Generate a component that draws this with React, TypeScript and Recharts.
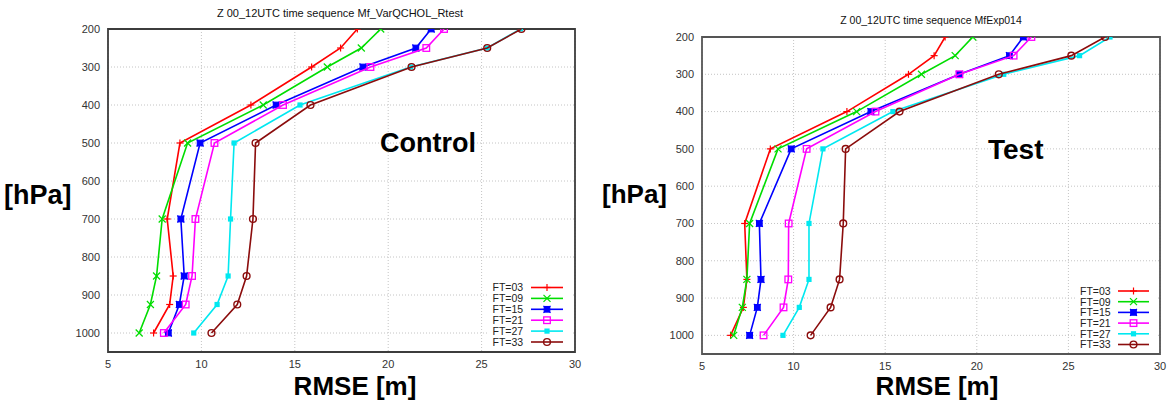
import { ScatterChart, Scatter, XAxis, YAxis, CartesianGrid, ReferenceArea } from 'recharts'

const FONT = '"Liberation Sans", Arial, Helvetica, sans-serif'

// pressure levels [hPa]
const levels = [200, 250, 300, 400, 500, 700, 850, 925, 1000]

const seriesNames = ['FT=03', 'FT=09', 'FT=15', 'FT=21', 'FT=27', 'FT=33']
const colors = ['#ff0000', '#00dd00', '#0000ff', '#ff00ff', '#00e8f0', '#8b0c0c']

const xTicks = [5, 10, 15, 20, 25, 30]
const yTicks = [200, 300, 400, 500, 600, 700, 800, 900, 1000]

// Control run RMSE [m]
const ctrlFT03 = [18.35, 17.45, 15.9, 12.65, 8.85, 8.17, 8.49, 8.3, 7.44]
const ctrlFT09 = [19.6, 18.56, 16.74, 13.31, 9.26, 7.9, 7.6, 7.27, 6.67]
const ctrlFT15 = [22.3, 21.48, 18.65, 14.0, 9.93, 8.9, 9.08, 8.82, 8.23]
const ctrlFT21 = [22.99, 22.04, 19.05, 14.37, 10.7, 9.68, 9.5, 9.16, 7.99]
const ctrlFT27 = [27.08, 25.3, 21.2, 15.28, 11.75, 11.56, 11.43, 10.84, 9.59]
const ctrlFT33 = [27.13, 25.3, 21.25, 15.84, 12.9, 12.76, 12.42, 11.92, 10.54]

// Test run RMSE [m]
const testFT03 = [18.27, 17.67, 16.27, 12.91, 8.73, 7.33, 7.45, 7.26, 6.56]
const testFT09 = [19.78, 18.82, 16.98, 13.44, 9.15, 7.6, 7.45, 7.2, 6.73]
const testFT15 = [22.54, 21.78, 19.05, 14.22, 9.87, 8.13, 8.22, 8.02, 7.6]
const testFT21 = [22.98, 22.01, 19.05, 14.47, 10.71, 9.73, 9.71, 9.45, 8.36]
const testFT27 = [27.27, 25.61, 21.47, 15.42, 11.6, 10.84, 10.84, 10.31, 9.42]
const testFT33 = [27.0, 25.16, 21.2, 15.78, 12.84, 12.71, 12.51, 12.02, 10.93]

const ctrlSeries = [ctrlFT03, ctrlFT09, ctrlFT15, ctrlFT21, ctrlFT27, ctrlFT33]
const testSeries = [testFT03, testFT09, testFT15, testFT21, testFT27, testFT33]

function Marker({ kind, cx, cy, color }: { kind: number; cx: number; cy: number; color: string }) {
  const s = 3.5
  switch (kind) {
    case 0:
      return (
        <g stroke={color} strokeWidth={1.2}>
          <line x1={cx - s} y1={cy} x2={cx + s} y2={cy} />
          <line x1={cx} y1={cy - s} x2={cx} y2={cy + s} />
        </g>
      )
    case 1:
      return (
        <g stroke={color} strokeWidth={1.2}>
          <line x1={cx - s} y1={cy - s} x2={cx + s} y2={cy + s} />
          <line x1={cx - s} y1={cy + s} x2={cx + s} y2={cy - s} />
        </g>
      )
    case 2:
      return (
        <g stroke={color} strokeWidth={1.1}>
          <rect x={cx - 2.8} y={cy - 2.8} width={5.6} height={5.6} fill={color} />
          <line x1={cx - s} y1={cy - s} x2={cx + s} y2={cy + s} />
          <line x1={cx - s} y1={cy + s} x2={cx + s} y2={cy - s} />
        </g>
      )
    case 3:
      return <rect x={cx - 3.3} y={cy - 3.3} width={6.6} height={6.6} fill="none" stroke={color} strokeWidth={1.3} />
    case 4:
      return <rect x={cx - 2.6} y={cy - 2.6} width={5.2} height={5.2} fill={color} />
    default:
      return <circle cx={cx} cy={cy} r={3.4} fill="none" stroke={color} strokeWidth={1.4} />
  }
}

function Panel({ left, width, margin, series, frame }: { left: number; width: number; margin: any; series: number[][]; frame: string }) {
  const tickStyle = { fontSize: 11, fill: '#333', fontFamily: FONT }
  return (
    <div style={{ position: 'absolute', left, top: 0 }}>
      <ScatterChart width={width} height={403} margin={margin}>
        <CartesianGrid stroke="#c4c4c4" strokeDasharray="1 2" />
        <XAxis type="number" dataKey="v" domain={[5, 30]} ticks={xTicks} interval={0}
          tickLine={false} axisLine={false} tick={tickStyle} height={20} allowDataOverflow />
        <YAxis type="number" dataKey="p" domain={[200, 1050]} ticks={yTicks} interval={0} reversed
          tickLine={false} axisLine={false} tick={tickStyle} width={40} allowDataOverflow />
        <ReferenceArea x1={5} x2={30} y1={200} y2={1050} fill="none" stroke={frame} strokeWidth={1.8} />
        {series.map((vals, i) => (
          <Scatter
            key={seriesNames[i]}
            name={seriesNames[i]}
            data={levels.map((p, k) => ({ p, v: vals[k] }))}
            fill={colors[i]}
            line={{ stroke: colors[i], strokeWidth: 1.6 }}
            shape={(pp: any) => <Marker kind={i} cx={pp.cx} cy={pp.cy} color={colors[i]} />}
            isAnimationActive={false}
          />
        ))}
      </ScatterChart>
    </div>
  )
}

function LegendBox({ textX, lineX1, lineX2, rowY, step, box }: { textX: number; lineX1: number; lineX2: number; rowY: number; step: number; box: number[] }) {
  return (
    <g>
      <rect x={box[0]} y={box[1]} width={box[2]} height={box[3]} fill="#fff" />
      {seriesNames.map((n, i) => {
        const y = rowY + i * step
        return (
          <g key={n}>
            <text x={textX} y={y + 3.8} fontSize={10.5} fill="#222" fontFamily={FONT}>{n}</text>
            <line x1={lineX1} y1={y} x2={lineX2} y2={y} stroke={colors[i]} strokeWidth={1.6} />
            <Marker kind={i} cx={(lineX1 + lineX2) / 2} cy={y} color={colors[i]} />
          </g>
        )
      })}
    </g>
  )
}

export default function App() {
  return (
    <div style={{ position: 'absolute', left: 0, top: 0, width: 1169, height: 403, background: '#fff', overflow: 'hidden' }}>
      <Panel left={0} width={600} margin={{ top: 29, right: 25, bottom: 31, left: 68 }} series={ctrlSeries} frame="#3c3c3c" />
      <Panel left={600} width={569} margin={{ top: 37, right: 9, bottom: 29, left: 62 }} series={testSeries} frame="#555" />
      <svg width={1169} height={403} style={{ position: 'absolute', left: 0, top: 0, pointerEvents: 'none' }}>
        <text x={340} y={17} fontSize={11} textAnchor="middle" fill="#111" fontFamily={FONT}>
          Z  00_12UTC time sequence Mf_VarQCHOL_Rtest
        </text>
        <text x={931} y={24} fontSize={10.5} textAnchor="middle" fill="#111" fontFamily={FONT}>
          Z  00_12UTC time sequence MfExp014
        </text>
        <text x={380} y={152} fontSize={27} fontWeight="bold" fill="#000" fontFamily={FONT}>Control</text>
        <text x={988} y={159} fontSize={28} fontWeight="bold" fill="#000" fontFamily={FONT}>Test</text>
        <text x={4} y={204} fontSize={27} fontWeight="bold" fill="#000" fontFamily={FONT}>[hPa]</text>
        <text x={602} y={203} fontSize={26} fontWeight="bold" fill="#000" fontFamily={FONT}>[hPa]</text>
        <text x={355} y={395} fontSize={26} textAnchor="middle" fontWeight="bold" fill="#000" fontFamily={FONT}>RMSE [m]</text>
        <text x={937} y={395} fontSize={26} textAnchor="middle" fontWeight="bold" fill="#000" fontFamily={FONT}>RMSE [m]</text>
        <LegendBox textX={492.5} lineX1={531} lineX2={563} rowY={287.5} step={10.9} box={[489, 281, 82, 67]} />
        <LegendBox textX={1080} lineX1={1118} lineX2={1149} rowY={291} step={10.7} box={[1076, 284, 80, 67]} />
      </svg>
    </div>
  )
}
